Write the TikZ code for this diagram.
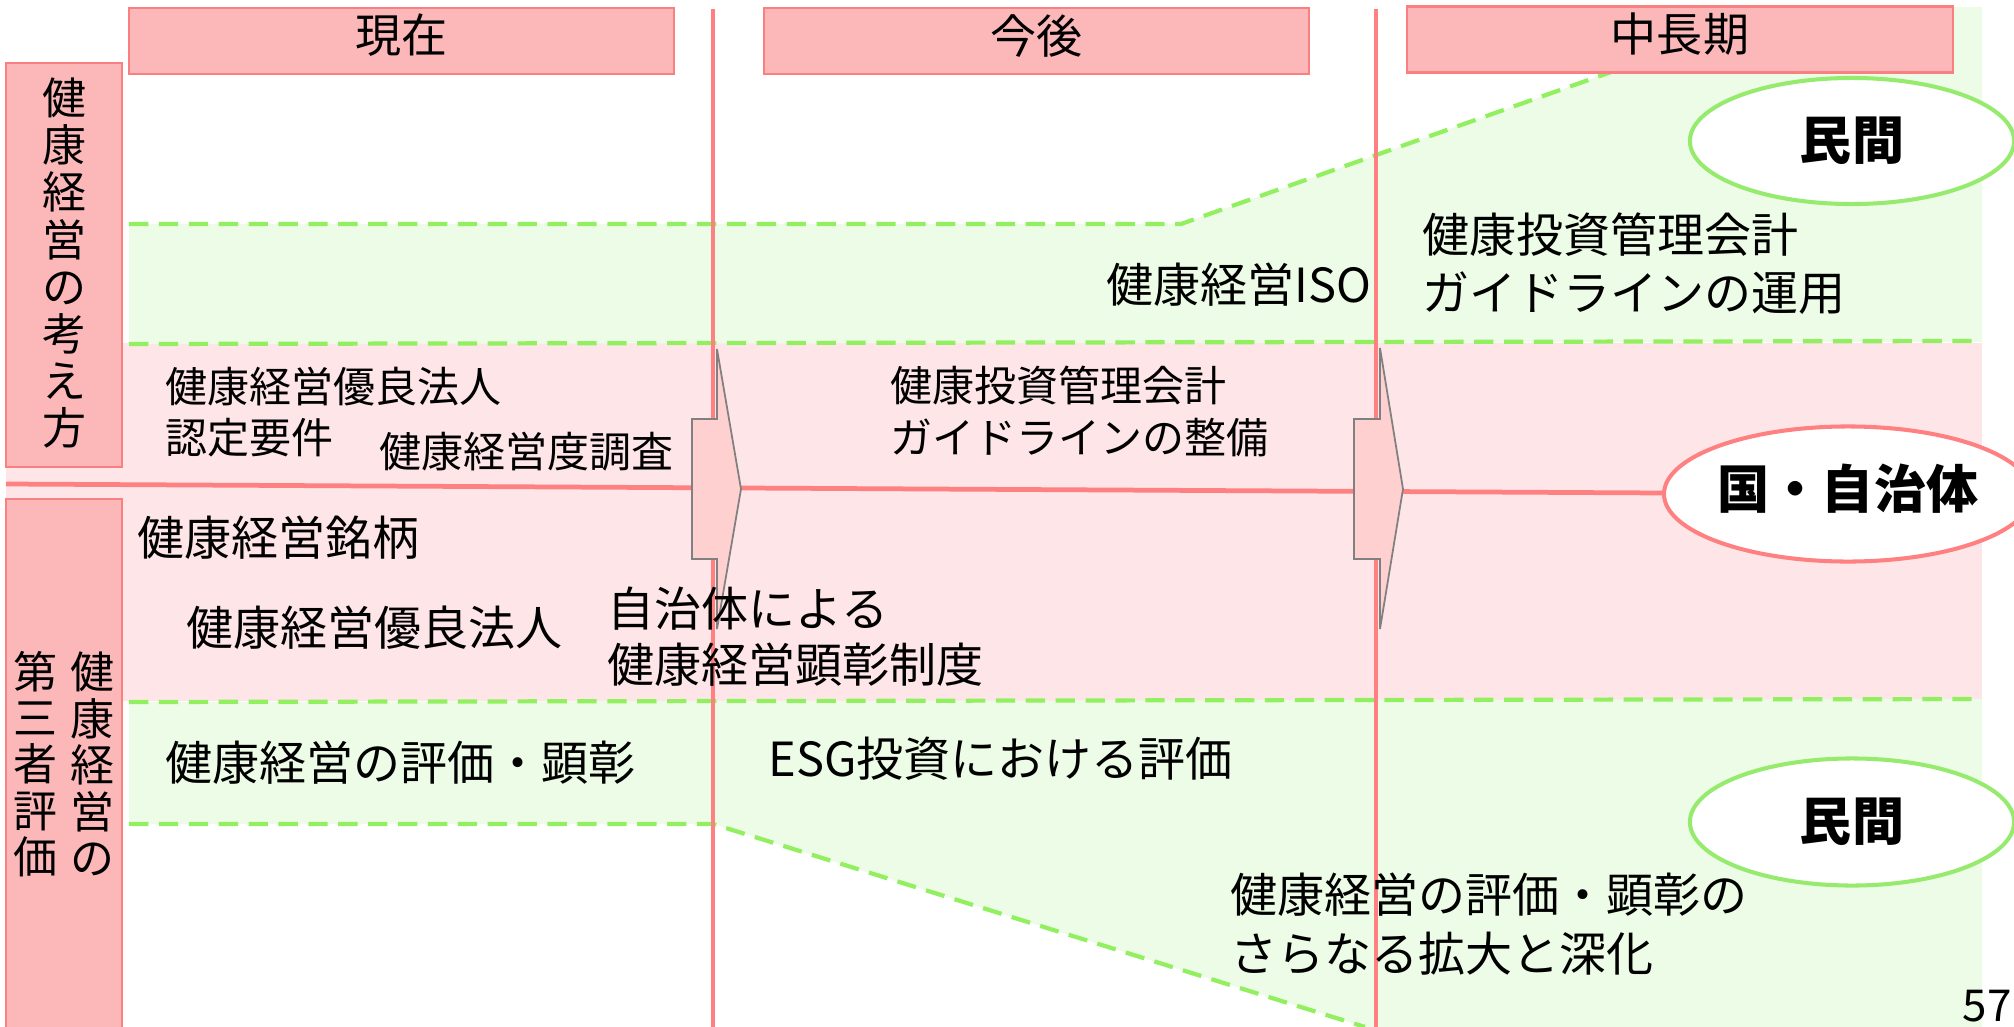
\documentclass[tikz,border=0pt]{standalone}
\usepackage{fontspec}
\setmainfont{Noto Sans CJK JP}
\usetikzlibrary{shapes.geometric}
\definecolor{hdrfill}{RGB}{252,184,184}
\definecolor{hdrline}{RGB}{248,128,128}
\definecolor{pinkband}{RGB}{254,230,232}
\definecolor{greenband}{RGB}{237,252,230}
\definecolor{greendash}{RGB}{146,240,96}
\definecolor{redline}{RGB}{255,128,128}
\definecolor{arrowfill}{RGB}{255,208,208}
\definecolor{arrowline}{RGB}{128,128,128}
\definecolor{ellgreen}{RGB}{150,235,110}
\begin{document}
\begin{tikzpicture}[x=0.01cm,y=-0.01cm,
  hdr/.style={draw=hdrline, fill=hdrfill, line width=0.6pt, inner sep=0pt, text depth=4.2pt,
    minimum width=5.45cm, minimum height=0.66cm, font=\fontsize{13.1pt}{15pt}\selectfont},
  side/.style={draw=hdrline, fill=hdrfill, line width=0.6pt},
  gdash/.style={draw=greendash, line width=1.2pt, dash pattern=on 5.5pt off 3pt},
  vline/.style={draw=redline, line width=1.05pt},
  hline/.style={draw=redline, line width=1.35pt},
  blockarrow/.style={draw=arrowline, fill=arrowfill, line width=0.5pt},
  sml/.style={inner sep=0pt, anchor=west, align=left, font=\fontsize{11.95pt}{#1}\selectfont},
  sml/.default=14.5pt,
  big/.style={inner sep=0pt, anchor=west, align=left, font=\fontsize{13.37pt}{#1}\selectfont},
  big/.default=16.5pt,
  vert/.style={inner sep=0pt, align=center, font=\fontsize{12.5pt}{#1}\selectfont},
  oval/.style={ellipse, fill=white, line width=1.15pt, inner sep=0pt,
    font=\bfseries\fontsize{14.8pt}{16pt}\selectfont}
]
\useasboundingbox (0,0) rectangle (2014,1027);

% bands
\fill[pinkband] (6,343) rectangle (1982,701);
\fill[greenband] (129,224) -- (1181,224) -- (1611,72) -- (1611,7) -- (1982,7)
  -- (1982,342) -- (129,344) -- cycle;
\fill[greenband] (129,702) -- (1982,699) -- (1982,1027) -- (1365,1027)
  -- (713,824) -- (129,824) -- cycle;

% dashed borders
\draw[gdash] (129,224) -- (1181,224) -- (1611,72);
\draw[gdash] (129,344) -- (1982,341);
\draw[gdash] (129,702) -- (1982,699);
\draw[gdash] (129,824) -- (713,824) -- (1365,1027);

% vertical period separators
\coordinate (v1top) at (713,9);
\coordinate (v1bot) at (713,1027);
\coordinate (v2top) at (1376,9);
\coordinate (v2bot) at (1376,1027);
\draw[vline] (v1top) -- (v1bot);
\draw[vline] (v2top) -- (v2bot);

% ellipses
\node[oval, draw=redline, text depth=4.5pt, minimum width=3.52cm, minimum height=1.35cm] (gov) at (1848,494) {国・自治体};
\coordinate (hstart) at (6,484);
\draw[hline] (hstart) -- (gov);
\node[oval, draw=ellgreen, minimum width=3.24cm, minimum height=1.26cm] (pvtA) at (1852,141) {民間};
\node[oval, draw=ellgreen, minimum width=3.24cm, minimum height=1.27cm] (pvtB) at (1852,822) {民間};

% block arrows
\filldraw[blockarrow] (692,419) -- (717,419) -- (717,349) -- (741,489) -- (717,629)
  -- (717,559) -- (692,559) -- cycle;
\filldraw[blockarrow] (1354,419) -- (1380,419) -- (1380,348) -- (1403,489) -- (1380,629)
  -- (1380,559) -- (1354,559) -- cycle;

% headers
\node[hdr] (hNow) at (401.5,41) {現在};
\node[hdr] (hNext) at (1036.5,41) {今後};
\node[hdr] (hLong) at (1680,39.5) {中長期};

% side labels
\filldraw[side] (6,63) rectangle (122,467);
\filldraw[side] (6,499) rectangle (122,1040);
\node[vert=13.37pt] (sideA) at (64,263) {健\\康\\経\\営\\の\\考\\え\\方};
\node[vert=13.2pt] (sideB1) at (92,764) {健\\康\\経\\営\\の};
\node[vert=13.2pt] (sideB2) at (35,764) {第\\三\\者\\評\\価};

% texts: upper green band
\node[big, anchor=east] (tIso) at (1372,285) {健康経営ISO};
\node[big] (tGuideUse) at (1422,264) {健康投資管理会計\\ガイドラインの運用};

% texts: pink band above line
\node[sml=14.5pt] (tReq) at (165,412) {健康経営優良法人\\認定要件};
\node[sml] (tSurvey) at (379,452) {健康経営度調査};
\node[sml=14.8pt] (tGuide) at (890,411) {健康投資管理会計\\ガイドラインの整備};

% texts: pink band below line
\node[big] (tBrand) at (137,538) {健康経営銘柄};
\node[big] (tCorp) at (186,628) {健康経営優良法人};
\node[big=15.9pt] (tLocal) at (607,637) {自治体による\\健康経営顕彰制度};

% texts: lower green band
\node[big] (tEval) at (165,763) {健康経営の評価・顕彰};
\node[big] (tEsg) at (768,759) {ESG投資における評価};
\node[big=16.8pt] (tExpand) at (1230,924) {健康経営の評価・顕彰の\\さらなる拡大と深化};

% page number
\node[inner sep=0pt, font=\fontsize{12.5pt}{14pt}\selectfont] (pageno) at (1987,1006) {57};
\end{tikzpicture}
\end{document}
